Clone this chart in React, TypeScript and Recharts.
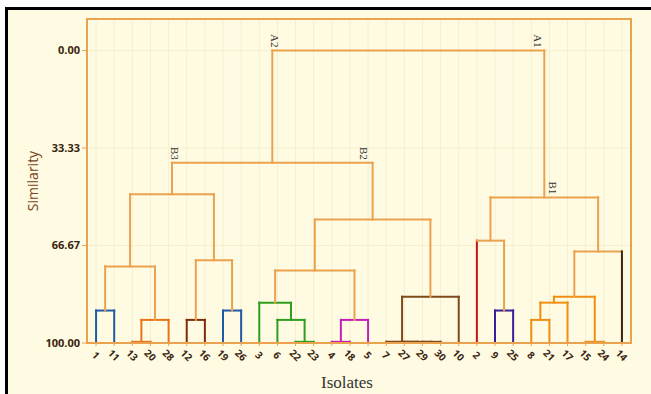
import {
  ComposedChart,
  Line,
  XAxis,
  YAxis,
  CartesianGrid,
  ReferenceArea,
  Scatter,
} from "recharts";

// leaf order along the bottom axis
const LEAVES = [
  "1", "11", "13", "20", "28", "12", "16", "19", "26", "3",
  "6", "22", "23", "4", "18", "5", "7", "27", "29", "30",
  "10", "2", "9", "25", "8", "21", "17", "15", "24", "14",
];

const Y_TICKS = [0, 33.33, 66.67, 100];

// linkage table: [left child, right child, similarity, colour]
// children are leaf names or "N<k>" = k-th merge below
const MERGES: [string, string, number, string][] = [
  ["1", "11", 88.9, "blue"], // N0
  ["13", "20", 99.6, "orange"], // N1
  ["N1", "28", 92.1, "orange"], // N2
  ["N0", "N2", 73.8, "link"], // N3
  ["12", "16", 92.1, "brown"], // N4
  ["19", "26", 88.9, "blue"], // N5
  ["N4", "N5", 71.7, "link"], // N6
  ["N3", "N6", 49.1, "link"], // N7
  ["22", "23", 99.6, "green"], // N8
  ["6", "N8", 92.1, "green"], // N9
  ["3", "N9", 86.2, "green"], // N10
  ["4", "18", 99.6, "magenta"], // N11
  ["N11", "5", 92.1, "magenta"], // N12
  ["N10", "N12", 75.2, "link"], // N13
  ["29", "30", 99.6, "umber"], // N14
  ["27", "N14", 99.6, "umber"], // N15
  ["7", "N15", 99.6, "umber"], // N16
  ["N16", "10", 84.2, "umber"], // N17
  ["N13", "N17", 57.8, "link"], // N18
  ["N7", "N18", 38.4, "link"], // N19
  ["9", "25", 88.9, "purple"], // N20
  ["2", "N20", 65.0, "link"], // N21
  ["8", "21", 92.1, "amber"], // N22
  ["N22", "17", 86.2, "amber"], // N23
  ["15", "24", 99.6, "amber"], // N24
  ["N23", "N24", 84.2, "amber"], // N25
  ["N25", "14", 68.7, "link"], // N26
  ["N21", "N26", 50.2, "link"], // N27
  ["N19", "N27", 0, "link"], // N28
];

// singleton clusters keep their own colour on the leaf branch
const LEAF_COLOR: Record<string, string> = { "2": "red", "14": "dark" };

// group labels: [text, node for x, merge for height]
const GROUP_LABELS: [string, string, string][] = [
  ["A2", "N19", "N28"],
  ["A1", "N27", "N28"],
  ["B3", "N7", "N19"],
  ["B2", "N18", "N19"],
  ["B1", "N27", "N27"],
];

const COLORS: Record<string, string> = {
  link: "#eba24f",
  blue: "#1f5aa6",
  orange: "#e8741a",
  brown: "#7b2e0e",
  green: "#2f9e1e",
  magenta: "#c21fb5",
  umber: "#7d4a1a",
  red: "#c41414",
  purple: "#3b1f9a",
  amber: "#ef8f12",
  dark: "#3a2510",
};

const LABEL_NUDGE: Record<string, number> = { A2: 3, A1: -6, B3: 3, B2: -9, B1: 9 };

type Pt = { x: number; h: number };
const nodes: Pt[] = [];
const pos = (ref: string): Pt =>
  ref.startsWith("N") ? nodes[Number(ref.slice(1))] : { x: LEAVES.indexOf(ref), h: 100 };

const segments: { color: string; data: { x: number; y: number }[] }[] = [];
MERGES.forEach(([a, b, h, c]) => {
  const pa = pos(a);
  const pb = pos(b);
  const legColor = (ref: string) =>
    COLORS[(!ref.startsWith("N") && LEAF_COLOR[ref]) || c];
  segments.push({ color: legColor(a), data: [{ x: pa.x, y: pa.h }, { x: pa.x, y: h }] });
  segments.push({ color: COLORS[c], data: [{ x: pa.x, y: h }, { x: pb.x, y: h }] });
  segments.push({ color: legColor(b), data: [{ x: pb.x, y: pb.h }, { x: pb.x, y: h }] });
  nodes.push({ x: (pa.x + pb.x) / 2, h });
});

const labelData = GROUP_LABELS.map(([name, n, at]) => ({
  name,
  x: pos(n).x,
  y: pos(at).h,
}));

const LeafTick = ({ x, y, payload }: any) => (
  <text
    x={x}
    y={y + 7}
    transform={`rotate(45 ${x} ${y + 7})`}
    textAnchor="middle"
    dominantBaseline="central"
    fontSize={10}
    fontWeight={700}
    fontFamily="'Open Sans', sans-serif"
    fill="#3b2410"
  >
    {LEAVES[payload.value]}
  </text>
);

const GroupLabel = ({ cx, cy, payload }: any) => {
  const x = cx + (LABEL_NUDGE[payload.name] || 0);
  const y = cy - 3;
  return (
    <text
      x={x}
      y={y}
      transform={`rotate(90 ${x} ${y})`}
      textAnchor="end"
      dominantBaseline="central"
      fontSize={11}
      fontFamily="'Liberation Serif', serif"
      fill="#333"
    >
      {payload.name}
    </text>
  );
};

const SimilarityLabel = ({ viewBox }: any) => {
  const cx = viewBox.x + 32;
  const cy = viewBox.y + viewBox.height / 2;
  return (
    <text
      x={cx}
      y={cy}
      transform={`rotate(-90 ${cx} ${cy})`}
      textAnchor="middle"
      dominantBaseline="central"
      fontSize={14}
      fontFamily="'Open Sans', sans-serif"
      fill="#7a4220"
    >
      Similarity
    </text>
  );
};

const IsolatesLabel = ({ viewBox }: any) => (
  <text
    x={viewBox.x + viewBox.width / 2 - 12}
    y={388}
    textAnchor="middle"
    fontSize={17}
    fontFamily="'Liberation Serif', 'DejaVu Serif', serif"
    fill="#333"
  >
    Isolates
  </text>
);

export default function App() {
  return (
    <div style={{ position: "absolute", left: 0, top: 0, width: 651, height: 394, background: "#fff", overflow: "hidden" }}>
      <div
        style={{
          position: "absolute",
          left: 5,
          top: 7,
          right: 0,
          bottom: 0,
          borderTop: "3px solid #000",
          borderLeft: "3px solid #000",
          background: "#fefbe2",
        }}
      />
      <div style={{ position: "absolute", left: 0, top: 0 }}>
        <ComposedChart width={651} height={394} margin={{ top: 19, right: 20, bottom: 0, left: 0 }}>
          <CartesianGrid stroke="#f5efcf" />
          <XAxis
            dataKey="x"
            type="number"
            domain={[-0.5, 29.5]}
            ticks={LEAVES.map((_, i) => i)}
            interval={0}
            height={51}
            tick={<LeafTick />}
            tickSize={3}
            axisLine={{ stroke: COLORS.link, strokeWidth: 2 }}
            tickLine={{ stroke: COLORS.link }}
            label={<IsolatesLabel />}
          />
          <YAxis
            type="number"
            domain={[-10.8, 100]}
            reversed
            ticks={Y_TICKS}
            interval={0}
            width={87}
            tickSize={5}
            tickFormatter={(v: number) => v.toFixed(2)}
            tick={{ fontSize: 11, fontWeight: 700, fontFamily: "'Open Sans', sans-serif", fill: "#3b2410" }}
            axisLine={{ stroke: COLORS.link, strokeWidth: 2 }}
            tickLine={{ stroke: COLORS.link }}
            label={<SimilarityLabel />}
          />
          <ReferenceArea
            x1={-0.5}
            x2={29.5}
            y1={-10.8}
            y2={100}
            fill="none"
            stroke={COLORS.link}
            strokeWidth={2}
            fillOpacity={0}
          />
          {segments.map((s, i) => (
            <Line
              key={i}
              data={s.data}
              dataKey="y"
              type="linear"
              stroke={s.color}
              strokeWidth={2}
              strokeLinecap="square"
              dot={false}
              activeDot={false}
              isAnimationActive={false}
            />
          ))}
          <Scatter data={labelData} dataKey="y" shape={<GroupLabel />} isAnimationActive={false} />
        </ComposedChart>
      </div>
    </div>
  );
}
